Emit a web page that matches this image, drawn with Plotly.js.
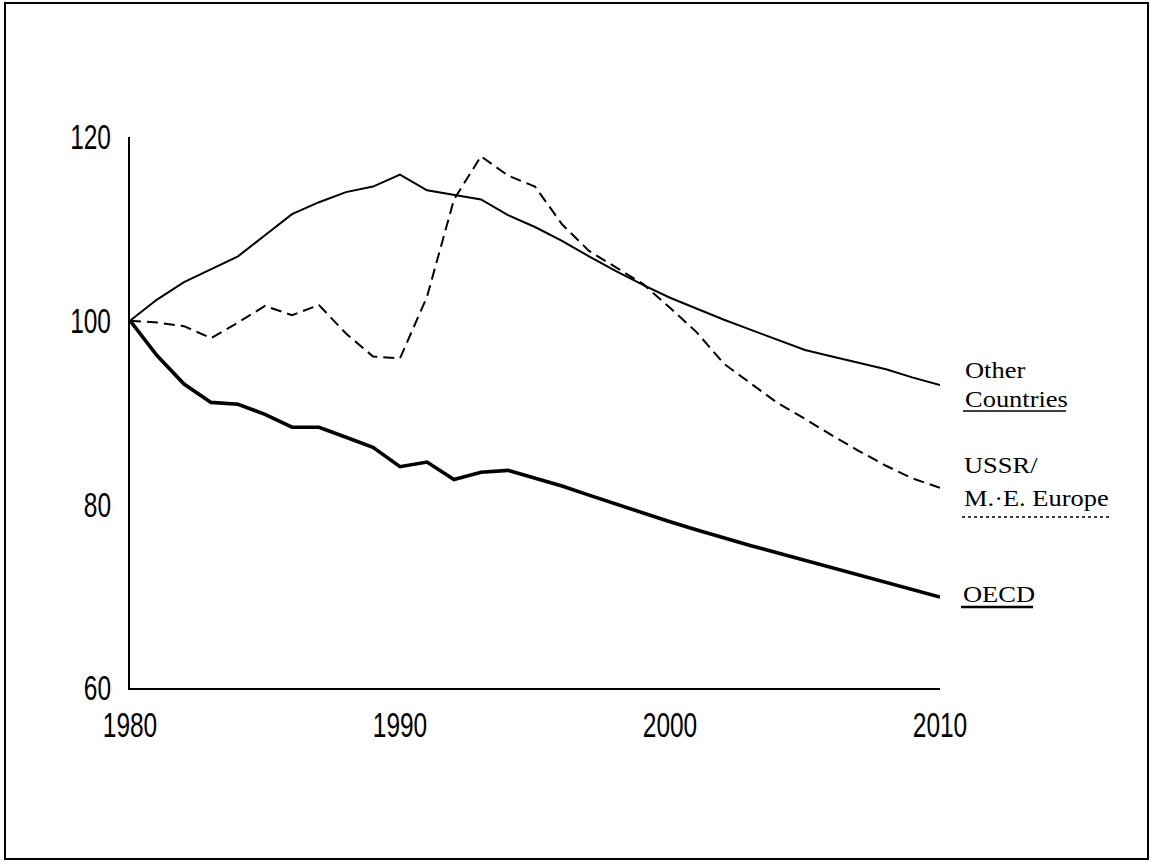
<!DOCTYPE html>
<html>
<head>
<meta charset="utf-8">
<script src="https://cdn.plot.ly/plotly-3.0.1.min.js"></script>
<style>
  html, body { margin: 0; padding: 0; background: #fff; }
  #chart { width: 1152px; height: 863px; }
</style>
</head>
<body>
<div id="chart"></div>
<script>
// ---- Data (index, 1980 = 100) ----
const years = [1980,1981,1982,1983,1984,1985,1986,1987,1988,1989,
               1990,1991,1992,1993,1994,1995,1996,1997,1998,1999,
               2000,2001,2002,2003,2004,2005,2006,2007,2008,2009,2010];

const otherCountries = [100,102.3,104.2,105.6,107.0,109.3,111.6,112.9,114.0,114.6,
                        115.9,114.2,113.7,113.2,111.5,110.2,108.7,107.0,105.4,103.9,
                        102.5,101.3,100.1,99.0,97.9,96.8,96.1,95.4,94.7,93.8,
                        93.0];

const ussrEEurope = [100,99.8,99.4,98.1,99.8,101.6,100.6,101.7,98.6,96.1,
                     95.9,102.6,113.2,117.9,115.8,114.6,110.5,107.6,105.8,104.0,
                     101.4,98.7,95.3,93.1,91.0,89.3,87.5,85.8,84.2,82.8,
                     81.8];

const oecd = [100,96.2,93.1,91.1,90.9,89.8,88.4,88.4,87.3,86.2,
              84.1,84.6,82.7,83.5,83.7,82.9,82.0,81.0,80.0,79.1,
              78.1,77.2,76.3,75.5,74.7,73.9,73.1,72.3,71.5,70.8,
              69.9];

const xTicks = [1980, 1990, 2000, 2010];
const yTicks = [60, 80, 100, 120];

// ---- Layout helpers (pixel -> paper) ----
const W = 1152, H = 863;
const L = 130, R = 940, T = 137, B = 688;
const px = x => (x - L) / (R - L);
const py = y => (B - y) / (B - T);

const tickFont = { family: "'Liberation Sans', Arial, sans-serif", size: 35, color: '#000' };
const labelFont = { family: "'Liberation Serif', 'DejaVu Serif', serif", size: 23, color: '#000' };

const traces = [
  { x: years, y: otherCountries, name: 'Other Countries', mode: 'lines',
    line: { color: '#000', width: 2 } },
  { x: years, y: ussrEEurope, name: 'USSR/M.·E. Europe', mode: 'lines',
    line: { color: '#000', width: 2, dash: '11px,6px' } },
  { x: years, y: oecd, name: 'OECD', mode: 'lines',
    line: { color: '#000', width: 3.6 } }
];

const layout = {
  width: W, height: H,
  margin: { l: L, r: W - R, t: T, b: H - B, pad: 0 },
  paper_bgcolor: '#fff', plot_bgcolor: '#fff',
  showlegend: false,
  xaxis: {
    range: [1980, 2010], tickvals: xTicks, ticktext: xTicks.map(String),
    showgrid: false, zeroline: false, showline: true, linecolor: '#000', linewidth: 2,
    ticks: 'outside', ticklen: 5, tickcolor: 'rgba(0,0,0,0)', tickfont: tickFont
  },
  yaxis: {
    range: [60, 120], tickvals: yTicks, ticktext: yTicks.map(String),
    showgrid: false, zeroline: false, showline: true, linecolor: '#000', linewidth: 2,
    ticks: 'outside', ticklen: 10, tickcolor: 'rgba(0,0,0,0)', tickfont: tickFont
  },
  annotations: [
    { text: 'Other', x: px(963), y: py(370) },
    { text: 'Countries', x: px(963), y: py(399) },
    { text: 'USSR/', x: px(962), y: py(465) },
    { text: 'M.·E. Europe', x: px(962), y: py(498) },
    { text: 'OECD', x: px(961), y: py(594) }
  ].map(a => Object.assign({ xref: 'paper', yref: 'paper', xanchor: 'left', yanchor: 'middle',
                             showarrow: false, font: labelFont }, a)),
  shapes: [
    // underlines
    { type: 'line', xref: 'paper', yref: 'paper', x0: px(963), x1: px(1066), y0: py(411), y1: py(411),
      line: { color: '#000', width: 1.5 } },
    { type: 'line', xref: 'paper', yref: 'paper', x0: px(962), x1: px(1110), y0: py(517), y1: py(517),
      line: { color: '#000', width: 1.5, dash: 'dot' } },
    { type: 'line', xref: 'paper', yref: 'paper', x0: px(961), x1: px(1033), y0: py(607), y1: py(607),
      line: { color: '#000', width: 2.5 } },
    // outer frame
    { type: 'rect', xref: 'paper', yref: 'paper', x0: px(5), x1: px(1148), y0: py(859), y1: py(3),
      line: { color: '#000', width: 2 } }
  ]
};

function stretch(el, sx, mode) {
  const bb = el.getBBox();
  let ax = bb.x;
  if (mode === 'right') ax = bb.x + bb.width;
  else if (mode === 'center') ax = bb.x + bb.width / 2;
  const prev = el.getAttribute('transform') || '';
  el.setAttribute('transform', prev + ` translate(${ax},0) scale(${sx},1) translate(${-ax},0)`);
}

Plotly.newPlot('chart', traces, layout, { staticPlot: true, displayModeBar: false }).then(gd => {
  // condensed look for the tick numerals
  gd.querySelectorAll('.xtick text').forEach(t => stretch(t, 0.7, 'center'));
  gd.querySelectorAll('.ytick text').forEach(t => stretch(t, 0.7, 'right'));
  // wide spacing of the series labels
  gd.querySelectorAll('.annotation-text').forEach(t => stretch(t, 1.15, 'left'));
});
</script>
</body>
</html>
